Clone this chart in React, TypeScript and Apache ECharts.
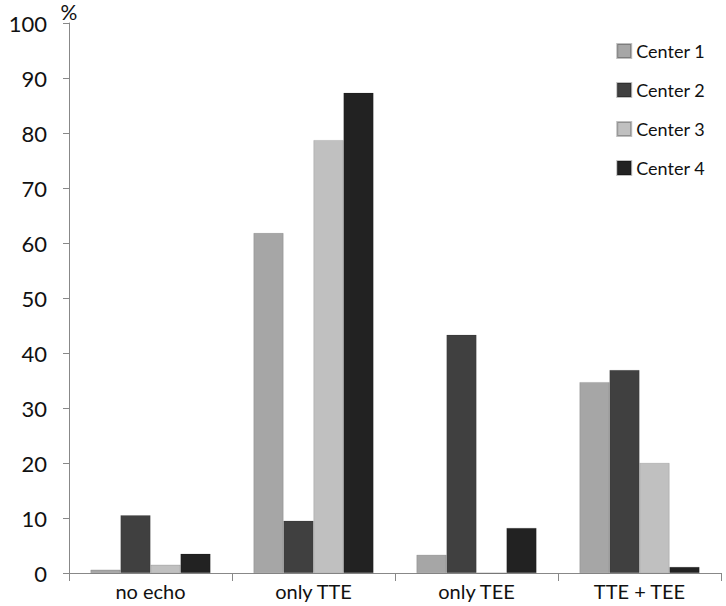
import React, { useEffect, useRef } from "react";
import * as echarts from "echarts";

const categories = ["no echo", "only TTE", "only TEE", "TTE + TEE"];
const seriesNames = ["Center 1", "Center 2", "Center 3", "Center 4"];
const center1 = [0.6, 61.8, 3.3, 34.7];
const center2 = [10.5, 9.5, 43.3, 36.9];
const center3 = [1.5, 78.7, 0, 20.0];
const center4 = [3.5, 87.3, 8.2, 1.1];
const colors = ["#a6a6a6", "#404040", "#c0c0c0", "#222222"];
const yUnit = "%";

export default function App() {
  const ref = useRef<HTMLDivElement>(null);
  useEffect(() => {
    if (!ref.current) return;
    const chart = echarts.init(ref.current, undefined, { renderer: "svg" });
    const data = [center1, center2, center3, center4];
    chart.setOption({
      animation: false,
      backgroundColor: "#ffffff",
      textStyle: { fontFamily: "Lato" },
      grid: { left: 69, right: 5, top: 23, bottom: 33 },
      graphic: [
        {
          type: "text",
          x: 69,
          y: 1,
          style: {
            text: yUnit,
            fontSize: 21,
            fontFamily: "Lato",
            fill: "#111",
            align: "center",
            verticalAlign: "top",
          },
        },
      ],
      legend: {
        orient: "vertical",
        right: 16,
        top: 37,
        itemWidth: 14,
        itemHeight: 14,
        itemGap: 21,
        icon: "rect",
        textStyle: { fontSize: 18, color: "#111", fontFamily: "Lato" },
        data: seriesNames,
      },
      xAxis: {
        type: "category",
        data: categories,
        axisLine: { lineStyle: { color: "#888", width: 1 } },
        axisTick: { show: true, length: 8, lineStyle: { color: "#888" } },
        axisLabel: { fontSize: 20, color: "#111", margin: 8 },
      },
      yAxis: {
        type: "value",
        min: 0,
        max: 100,
        interval: 10,
        splitLine: { show: false },
        axisLine: { show: true, lineStyle: { color: "#888", width: 1 } },
        axisTick: { show: true, length: 6, lineStyle: { color: "#888" } },
        axisLabel: { fontSize: 22, color: "#111", margin: 22 },
      },
      series: data.map((d, i) => ({
        name: seriesNames[i],
        type: "bar",
        data: d,
        barWidth: 30,
        barGap: "0%",
        itemStyle: { color: colors[i], borderColor: "rgba(0,0,0,0.25)", borderWidth: 0.5 },
      })),
    });
    return () => chart.dispose();
  }, []);
  return (
    <div
      ref={ref}
      style={{ position: "absolute", left: 0, top: 0, width: 726, height: 606 }}
    />
  );
}
